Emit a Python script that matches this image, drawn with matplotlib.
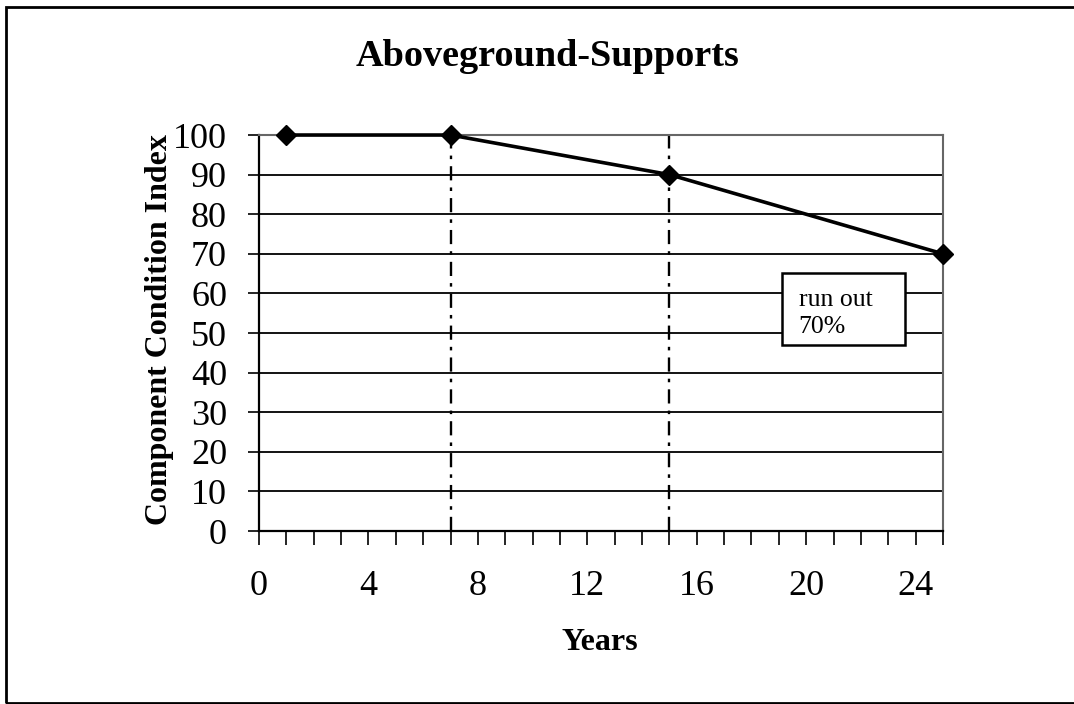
import matplotlib
matplotlib.use("Agg")
import matplotlib.pyplot as plt
import matplotlib.patches as patches
from matplotlib.ticker import MultipleLocator

# condition index over service life
years = [1, 7, 15, 25]
condition = [100, 100, 90, 70]
# dash-dot markers at the break years
break_years = [7, 15]

plt.rcParams['font.family'] = ['Liberation Serif', 'DejaVu Serif']

fig = plt.figure(figsize=(10.74, 7.04), dpi=100)
ax = fig.add_axes([0.2412, 0.2457, 0.8780 - 0.2412, 0.8082 - 0.2457])

# outer chart frame (right side runs off the page)
frame = patches.Rectangle((0.006, 0.002), 1.1, 0.988, transform=fig.transFigure,
                          fill=False, edgecolor='black', linewidth=2)
fig.patches.append(frame)

ax.set_xlim(0, 25)
ax.set_ylim(0, 100)

# horizontal gridlines
for yv in range(10, 100, 10):
    ax.axhline(yv, color='black', linewidth=1.3, zorder=1)

for bx in break_years:
    ax.axvline(bx, color='black', linewidth=1.7, linestyle=(0, (6, 3, 1.5, 3)), zorder=2)

ax.plot(years, condition, color='black', linewidth=2.6, marker='D', markersize=10,
        zorder=4, clip_on=False)

# spines: solid left/bottom, dotted grey plot-area edge on top/right
for side in ['left', 'bottom']:
    ax.spines[side].set_linewidth(1.6)
for side in ['top', 'right']:
    ax.spines[side].set_color('#666666')
    ax.spines[side].set_linestyle((0, (1, 1)))
    ax.spines[side].set_linewidth(1.5)

ax.xaxis.set_major_locator(MultipleLocator(4))
ax.xaxis.set_minor_locator(MultipleLocator(1))
ax.yaxis.set_major_locator(MultipleLocator(10))
ax.tick_params(axis='x', which='both', direction='out', length=10, width=1.2,
               pad=18, labelsize=26)
ax.tick_params(axis='y', which='major', direction='out', length=8, width=1.2,
               pad=15, labelsize=26)

fig.text(547 / 1074, 1 - 57 / 704, 'Aboveground-Supports', fontsize=27.5,
         fontweight='bold', ha='center', va='center')
fig.text(600 / 1074, 1 - 643 / 704, 'Years', fontsize=23, fontweight='bold',
         ha='center', va='center')
fig.text(160 / 1074, 1 - 330 / 704, 'Component Condition Index', fontsize=23,
         fontweight='bold', ha='center', va='center', rotation=90)

# run-out annotation box
box = patches.Rectangle((0.765, 0.469), 0.18, 0.183, transform=ax.transAxes,
                        facecolor='white', edgecolor='black', linewidth=1.8, zorder=5)
ax.add_patch(box)
ax.text(0.789, 0.612, 'run out\n70%', transform=ax.transAxes, fontsize=18.5,
        va='top', ha='left', linespacing=1.3, zorder=6)

fig.savefig('out.png', dpi=100, facecolor='white')
